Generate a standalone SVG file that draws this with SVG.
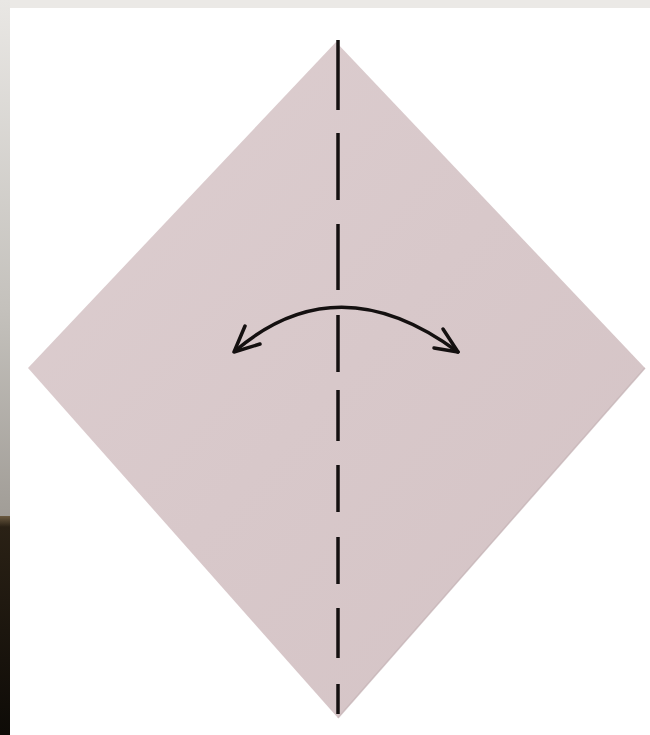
<svg xmlns="http://www.w3.org/2000/svg" width="650" height="735" viewBox="0 0 650 735">
  <defs>
    <linearGradient id="strip" x1="0" y1="0" x2="0" y2="1">
      <stop offset="0" stop-color="#e9e7e4"/>
      <stop offset="0.6" stop-color="#c4c1bc"/>
      <stop offset="1" stop-color="#a19d97"/>
    </linearGradient>
    <linearGradient id="dark" x1="0" y1="0" x2="0" y2="1">
      <stop offset="0" stop-color="#6b5a40"/>
      <stop offset="0.05" stop-color="#2a2115"/>
      <stop offset="1" stop-color="#0e0b07"/>
    </linearGradient>
    <linearGradient id="paper" x1="0" y1="0" x2="1" y2="1">
      <stop offset="0" stop-color="#ddced0"/>
      <stop offset="0.5" stop-color="#d8c8ca"/>
      <stop offset="1" stop-color="#d4c3c5"/>
    </linearGradient>
    <style>
      .fold { stroke: #141010; stroke-width: 3.5; stroke-linecap: butt; }
      .arrow { fill: none; stroke: #141010; stroke-width: 3.5; stroke-linecap: round; stroke-linejoin: round; }
    </style>
  </defs>

  <rect x="0" y="0" width="650" height="735" fill="#ffffff"/>
  <!-- top band and left strip -->
  <rect x="0" y="0" width="650" height="8" fill="#ebe9e6"/>
  <rect x="0" y="0" width="10" height="516" fill="url(#strip)"/>
  <rect x="0" y="516" width="10" height="219" fill="url(#dark)"/>

  <!-- paper -->
  <g id="paper-sheet">
    <polygon points="336,42 645,368 338,718 28,368" fill="url(#paper)"/>
    <polyline points="645,368 338,718" fill="none" stroke="#c2afb2" stroke-width="1.5" opacity="0.7"/>
  </g>

  <!-- valley fold line -->
  <g id="fold-line">
    <line class="fold" x1="338" y1="40" x2="338" y2="110"/>
    <line class="fold" x1="338" y1="133" x2="338" y2="200"/>
    <line class="fold" x1="338" y1="224" x2="338" y2="290"/>
    <line class="fold" x1="338" y1="315" x2="338" y2="372"/>
    <line class="fold" x1="338" y1="390" x2="338" y2="441"/>
    <line class="fold" x1="338" y1="465" x2="338" y2="512"/>
    <line class="fold" x1="338" y1="537" x2="338" y2="584"/>
    <line class="fold" x1="338" y1="608" x2="338" y2="658"/>
    <line class="fold" x1="338" y1="684" x2="338" y2="714"/>
  </g>

  <!-- fold-and-unfold arrow -->
  <g id="connectors">
    <path class="arrow" d="M235,351 Q338,263 458,352"/>
    <polyline class="arrow" points="245,326 234,352 260,344"/>
    <polyline class="arrow" points="443,329 458,352 434,348"/>
  </g>
</svg>
